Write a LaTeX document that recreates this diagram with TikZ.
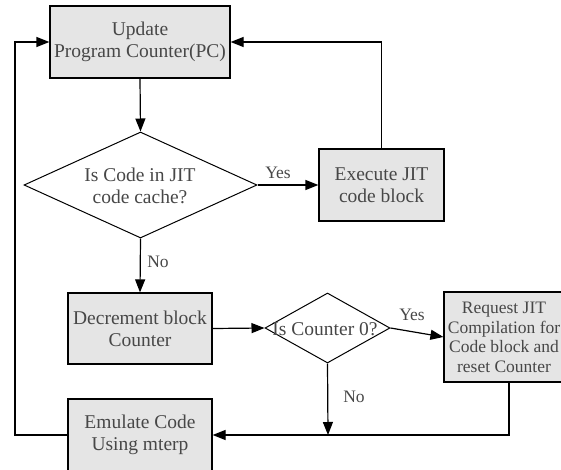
\documentclass[tikz,border=0pt]{standalone}
\usepackage{fontspec}
\setmainfont{Liberation Serif}
\usetikzlibrary{shapes.geometric,arrows.meta}
\begin{document}
\begin{tikzpicture}[x=1pt,y=-1pt,
 box/.style={draw=black, fill=black!10, line width=1.2pt, rectangle, inner sep=0pt,
   text=black!72, font=\fontsize{19.5}{22}\selectfont, align=center},
 dia/.style={draw=black, fill=white, diamond, line width=1pt, inner sep=0pt},
 txt/.style={text=black!72, font=\fontsize{19.5}{22}\selectfont, align=center, inner sep=0pt},
 lbl/.style={text=black!72, font=\fontsize{17.5}{20}\selectfont, inner sep=0pt},
 conn/.style={line width=1.2pt, draw=black},
 arr/.style={conn, -{Triangle[length=13pt,width=10pt]}}]
\useasboundingbox (0,0) rectangle (561,470);

\node[box, minimum width=180, minimum height=72] (upd) at (140,42) {Update\\Program Counter(PC)};
\node[dia, minimum width=233, minimum height=106] (d1) at (140.5,185) {};
\node[txt] (d1t) at (140,186) {Is Code in JIT\\code cache?};
\node[box, minimum width=125, minimum height=72] (exe) at (381.5,185) {Execute JIT\\code block};
\node[box, minimum width=144, minimum height=71] (dec) at (140,328.5) {Decrement block\\Counter};
\node[dia, minimum width=125, minimum height=70] (d2) at (327.5,328) {};
\node[txt] (d2t) at (325,329) {Is Counter 0?};
\node[box, minimum width=130, minimum height=90] (req) at (509,337) {};
\node[txt, font=\fontsize{17.5}{19.5}\selectfont] (reqt) at (504,337.5) {Request JIT\\Compilation for\\Code block and\\reset Counter};
\node[box, minimum width=144, minimum height=72] (emu) at (140,435) {Emulate Code\\Using mterp};

\coordinate (j) at (328,435);
\coordinate (lp) at (15,435);

\draw[arr] (upd.south) -- (d1.north);
\draw[arr] (d1.east) -- (exe.west);
\node[lbl] (yes1) at (278,173) {Yes};
\draw[arr] (exe.north) |- (upd.east);
\draw[arr] (d1.south) -- (dec.north);
\node[lbl] (no1) at (158,262) {No};
\draw[arr] (dec.east) -- (d2.west);
\draw[arr] (d2.east) -- (req.west);
\node[lbl] (yes2) at (412,315) {Yes};
\draw[arr] (d2.south) -- (j);
\node[lbl] (no2) at (354,397) {No};
\draw[arr] (req.south) |- (emu.east);
\draw[arr] (emu.west) -- (lp) |- (upd.west);
\end{tikzpicture}
\end{document}
